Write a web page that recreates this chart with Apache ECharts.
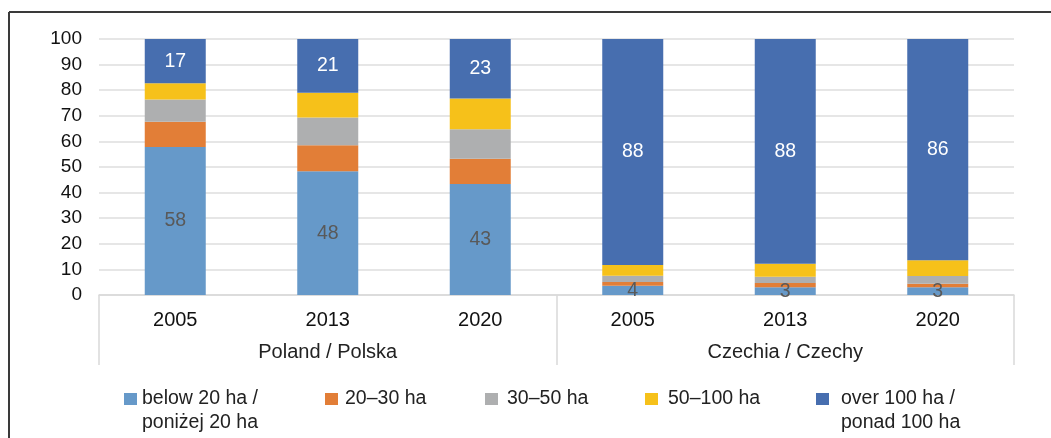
<!DOCTYPE html>
<html>
<head>
<meta charset="utf-8">
<script src="https://cdn.jsdelivr.net/npm/echarts@6/dist/echarts.min.js"></script>
<style>
html,body{margin:0;padding:0;background:#fff;}
#c{width:1051px;height:438px;}
</style>
</head>
<body>
<div id="c"></div>
<script>
const categories = ['2005', '2013', '2020', '2005', '2013', '2020'];
const groups = ['Poland / Polska', 'Czechia / Czechy'];
const yTicks = [0, 10, 20, 30, 40, 50, 60, 70, 80, 90, 100];
const seriesNames = ['below 20 ha /\nponiżej 20 ha', '20–30 ha', '30–50 ha', '50–100 ha', 'over 100 ha /\nponad 100 ha'];
const below20 = [57.8, 48.3, 43.4, 3.6, 3.0, 3.0];
const ha20_30 = [9.9, 10.2, 9.8, 1.5, 1.7, 1.4];
const ha30_50 = [8.7, 10.8, 11.5, 2.4, 2.4, 3.0];
const ha50_100 = [6.3, 9.7, 12.1, 4.2, 5.1, 6.2];
const over100 = [17.3, 21.0, 23.2, 88.3, 87.8, 86.4];

const colors = ['#6699C9', '#E27E37', '#AEAFB0', '#F6C11A', '#476EAF'];
const FONT = 'Liberation Sans, Arial, sans-serif';
const chart = echarts.init(document.getElementById('c'), null, {renderer: 'canvas'});

const values = [below20, ha20_30, ha30_50, ha50_100, over100];
const series = values.map((arr, i) => ({
  name: seriesNames[i],
  type: 'bar',
  stack: 'total',
  barWidth: 61,
  data: arr,
  itemStyle: {color: colors[i]},
  label: {
    show: i === 0 || i === 4,
    position: 'inside',
    color: i === 0 ? '#595959' : '#ffffff',
    fontFamily: FONT,
    fontSize: 19.5,
    formatter: p => Math.round(p.value)
  },
  emphasis: {disabled: true}
}));

const legendPos = [
  {left: 124, pad: 0},
  {left: 325, pad: 2},
  {left: 485, pad: 4},
  {left: 645, pad: 5},
  {left: 816, pad: 7}
];
const legends = seriesNames.map((n, i) => {
  const two = n.indexOf('\n') >= 0;
  return {
    data: [n],
    left: legendPos[i].left,
    top: two ? 363 : 387,
    padding: 0,
    itemWidth: 13,
    itemHeight: 12,
    icon: 'rect',
    selectedMode: false,
    formatter: name => (two ? '\n' + name : name),
    textStyle: {
      fontFamily: FONT,
      fontSize: 19.5,
      color: '#222',
      lineHeight: 24,
      padding: [0, 0, 0, legendPos[i].pad]
    }
  };
});

chart.setOption({
  backgroundColor: '#ffffff',
  animation: false,
  color: colors,
  grid: {left: 99, right: 37, top: 39, bottom: 143, containLabel: false},
  legend: legends,
  xAxis: [
    {
      type: 'category',
      data: categories,
      position: 'bottom',
      axisLine: {show: true, lineStyle: {color: '#d9d9d9', width: 1.5}},
      axisTick: {show: false},
      axisLabel: {fontFamily: FONT, fontSize: 20, color: '#111', margin: 15}
    },
    {
      type: 'category',
      data: groups,
      position: 'bottom',
      axisLine: {show: false},
      axisTick: {show: true, length: 70, lineStyle: {color: '#d9d9d9', width: 1.5}},
      axisLabel: {fontFamily: FONT, fontSize: 20, color: '#222', margin: 47}
    }
  ],
  yAxis: {
    type: 'value',
    min: yTicks[0],
    max: yTicks[yTicks.length - 1],
    interval: 10,
    axisLine: {show: false},
    axisTick: {show: false},
    axisLabel: {fontFamily: FONT, fontSize: 19, color: '#111', margin: 17},
    splitLine: {lineStyle: {color: '#dedede', width: 1.5}}
  },
  series: series,
  graphic: [
    {type: 'line', shape: {x1: 9, y1: 12, x2: 1051, y2: 12}, style: {stroke: '#3a3a3a', lineWidth: 2}, silent: true},
    {type: 'line', shape: {x1: 9, y1: 12, x2: 9, y2: 438}, style: {stroke: '#3a3a3a', lineWidth: 2}, silent: true}
  ]
});
</script>
</body>
</html>
